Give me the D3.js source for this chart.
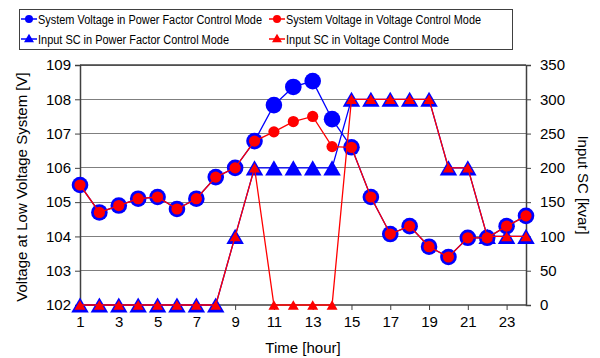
<!DOCTYPE html>
<html lang="en">
<head>
  <meta charset="UTF-8">
  <title>Voltage and Input SC</title>
  <script src="https://d3js.org/d3.v7.min.js"></script>
  <style>
    body { margin: 0; background: #fff; }
    text { font-family: "Liberation Sans", Arial, sans-serif; fill: #000; }
  </style>
</head>
<body>
<script>
  // ---- data ----
  const hours = d3.range(1, 25);
  const voltPF = [105.5, 104.7, 104.9, 105.1, 105.15, 104.8, 105.1, 105.73, 106.0, 106.78,
                  107.83, 108.36, 108.53, 107.42, 106.6, 105.15, 104.07, 104.3, 103.7, 103.4,
                  103.96, 103.96, 104.3, 104.6];
  const voltVC = [105.5, 104.7, 104.9, 105.1, 105.15, 104.8, 105.1, 105.73, 106.0, 106.78,
                  107.05, 107.35, 107.5, 106.62, 106.6, 105.15, 104.07, 104.3, 103.7, 103.4,
                  103.96, 103.96, 104.3, 104.6];
  const scPF = [0, 0, 0, 0, 0, 0, 0, 0, 100, 200, 200, 200, 200, 200,
                300, 300, 300, 300, 300, 200, 200, 100, 100, 100];
  const scVC = [0, 0, 0, 0, 0, 0, 0, 0, 100, 200, 0, 0, 0, 0,
                300, 300, 300, 300, 300, 200, 200, 100, 100, 100];
  const xTicks = d3.range(1, 25, 2);
  const leftTicks = d3.range(102, 110);
  const rightTicks = d3.range(0, 351, 50);
  const legendLabels = [
    "System Voltage in Power Factor Control Mode",
    "System Voltage in Voltage Control Mode",
    "Input SC in Power Factor Control Mode",
    "Input SC in Voltage Control Mode"
  ];

  // ---- layout ----
  const W = 600, H = 358;
  const m = { left: 80, right: 526, top: 65, bottom: 305 };
  const svg = d3.select("body").append("svg").attr("width", W).attr("height", H);

  const x = d3.scaleLinear().domain([1, 24]).range([m.left, m.right]);
  const yL = d3.scaleLinear().domain([102, 109]).range([m.bottom, m.top]);
  const yR = d3.scaleLinear().domain([0, 350]).range([m.bottom, m.top]);

  // gridlines
  svg.append("g").selectAll("line").data(leftTicks.slice(1)).join("line")
    .attr("x1", m.left).attr("x2", m.right)
    .attr("y1", d => yL(d)).attr("y2", d => yL(d))
    .attr("stroke", "#7f7f7f").attr("stroke-width", 1).attr("shape-rendering", "crispEdges");

  // axes
  const axL = svg.append("g").attr("transform", `translate(${m.left},0)`)
    .call(d3.axisLeft(yL).tickValues(leftTicks).tickSize(5).tickPadding(4).tickFormat(d3.format("d")));
  const axR = svg.append("g").attr("transform", `translate(${m.right},0)`)
    .call(d3.axisRight(yR).tickValues(rightTicks).tickSize(5).tickPadding(9));
  const axB = svg.append("g").attr("transform", `translate(0,${m.bottom})`)
    .call(d3.axisBottom(x).tickValues(xTicks).tickSize(5).tickPadding(6));
  [axL, axR, axB].forEach(g => {
    g.select(".domain").attr("stroke", "#404040").attr("stroke-width", 1.5);
    g.selectAll(".tick line").attr("stroke", "#404040");
    g.selectAll("text").style("font-size", "15px").attr("fill", "#000");
  });
  axB.select(".domain").attr("d", `M${m.left},0H${m.right}`);
  svg.append("line").attr("x1", m.left).attr("x2", m.right).attr("y1", m.top).attr("y2", m.top)
    .attr("stroke", "#404040").attr("stroke-width", 1.5);

  // axis titles
  svg.append("text").attr("transform", `translate(27,${(m.top + m.bottom) / 2 + 2}) rotate(-90)`)
    .attr("text-anchor", "middle").style("font-size", "15px").text("Voltage at Low Voltage System [V]");
  svg.append("text").attr("transform", `translate(578,${(m.top + m.bottom) / 2}) rotate(90)`)
    .attr("text-anchor", "middle").style("font-size", "15px").text("Input SC [kvar]");
  svg.append("text").attr("x", 303).attr("y", 353)
    .attr("text-anchor", "middle").style("font-size", "15px").text("Time [hour]");

  // ---- series ----
  // triangle of side s, centred on its bounding box
  const tri = s => {
    const h = s * Math.sqrt(3) / 2;
    return `M0,${-h / 2}L${s / 2},${h / 2}L${-s / 2},${h / 2}Z`;
  };
  function series (vals, y, color, kind, size, width) {
    const pts = vals.map((v, i) => [x(hours[i]), y(v)]);
    const g = svg.append("g");
    g.append("path").attr("d", d3.line()(pts)).attr("fill", "none")
      .attr("stroke", color).attr("stroke-width", width);
    if (kind === "circle") {
      g.selectAll("circle").data(pts).join("circle")
        .attr("cx", d => d[0]).attr("cy", d => d[1]).attr("r", size).attr("fill", color);
    } else {
      g.selectAll("path.m").data(pts).join("path").attr("class", "m")
        .attr("d", tri(size)).attr("transform", d => `translate(${d[0]},${d[1]})`)
        .attr("fill", color);
    }
  }
  series(voltPF, yL, "#0000ff", "circle", 8.3, 1.3);
  series(scPF, yR, "#0000ff", "tri", 17.5, 1.3);
  series(voltVC, yL, "#ff0000", "circle", 5.6, 1.3);
  series(scVC, yR, "#ff0000", "tri", 11, 1.3);

  // ---- legend ----
  const lg = svg.append("g");
  lg.append("rect").attr("x", 19.5).attr("y", 9.5).attr("width", 493).attr("height", 40)
    .attr("fill", "#fff").attr("stroke", "#404040").attr("stroke-width", 1);
  const items = [
    { lx: 21, ly: 19, c: "#0000ff", k: "circle", w: 224 },
    { lx: 269, ly: 19, c: "#ff0000", k: "circle", w: 195 },
    { lx: 21, ly: 39, c: "#0000ff", k: "tri", w: 191 },
    { lx: 269, ly: 39, c: "#ff0000", k: "tri", w: 163 }
  ];
  items.forEach((it, i) => {
    lg.append("line").attr("x1", it.lx).attr("x2", it.lx + 16).attr("y1", it.ly).attr("y2", it.ly)
      .attr("stroke", it.c).attr("stroke-width", 1.5);
    if (it.k === "circle") {
      lg.append("circle").attr("cx", it.lx + 8).attr("cy", it.ly).attr("r", 4).attr("fill", it.c);
    } else {
      lg.append("path").attr("d", tri(10)).attr("transform", `translate(${it.lx + 8},${it.ly - 1})`)
        .attr("fill", it.c);
    }
    lg.append("text").attr("x", it.lx + 17).attr("y", it.ly + 4.5)
      .attr("textLength", it.w).attr("lengthAdjust", "spacingAndGlyphs")
      .style("font-size", "12.5px").text(legendLabels[i]);
  });
</script>
</body>
</html>
